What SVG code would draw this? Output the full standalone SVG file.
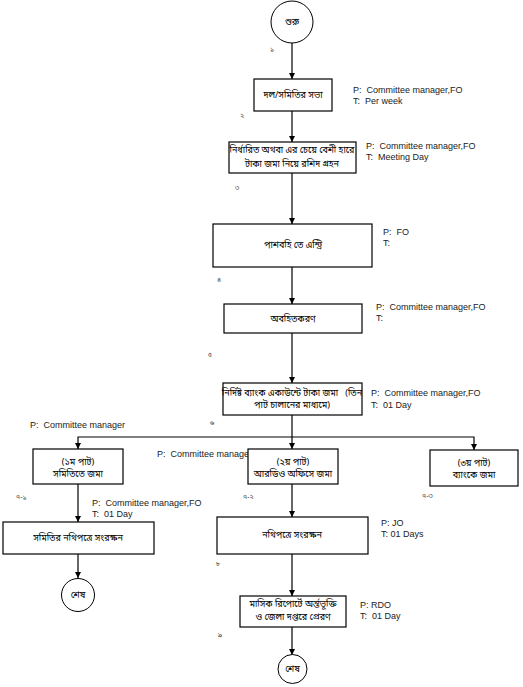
<svg xmlns="http://www.w3.org/2000/svg" width="523" height="687" viewBox="0 0 523 687">
<style>
.box{fill:#fff;stroke:#000;stroke-width:1.2}
.term{fill:#fff;stroke:#000;stroke-width:1}
.bn{font-family:"Noto Sans Bengali","Noto Serif Bengali","Lohit Bengali","FreeSerif","Noto Sans",sans-serif;font-size:9px;fill:#000;text-anchor:middle}
.num{font-family:"Noto Sans Bengali","Noto Serif Bengali","Lohit Bengali","FreeSerif","Noto Sans",sans-serif;font-size:7px;fill:#333}
.en{font-family:"Liberation Sans",Arial,sans-serif;font-size:9px;fill:#222;white-space:pre}
.ln{fill:none;stroke:#000;stroke-width:1.2}
</style>
<defs>
<marker id="ah" viewBox="0 0 10 10" refX="10" refY="5" markerWidth="6" markerHeight="7" markerUnits="userSpaceOnUse" orient="auto">
<path d="M0,0 L10,5 L0,10 z" fill="#000"/>
</marker>
</defs>
<rect width="523" height="687" fill="#fff"/>
<g id="connectors">
<path class="ln" d="M292,43 V79" marker-end="url(#ah)"/>
<path class="ln" d="M292,111 V142" marker-end="url(#ah)"/>
<path class="ln" d="M292,173 V224" marker-end="url(#ah)"/>
<path class="ln" d="M292,267 V304" marker-end="url(#ah)"/>
<path class="ln" d="M292,333 V383" marker-end="url(#ah)"/>
<path class="ln" d="M292,415 V449" marker-end="url(#ah)"/>
<path class="ln" d="M292,437 H78 V449" marker-end="url(#ah)"/>
<path class="ln" d="M292,437 H474 V450" marker-end="url(#ah)"/>
<path class="ln" d="M78,484 V522" marker-end="url(#ah)"/>
<path class="ln" d="M78,554 V578" marker-end="url(#ah)"/>
<path class="ln" d="M292,484 V517" marker-end="url(#ah)"/>
<path class="ln" d="M292,554 V596" marker-end="url(#ah)"/>
<path class="ln" d="M292,627 V655" marker-end="url(#ah)"/>
</g>
<g id="start">
<circle class="term" cx="292" cy="22" r="21"/>
<text class="bn" x="292" y="25" font-size="10">শুরু</text>
<text class="num" x="270" y="51">১</text>
</g>
<g id="n1">
<rect class="box" x="254" y="79" width="78" height="32"/>
<text class="bn" x="293" y="98">দল/সমিতির সভা</text>
<text class="en" x="353" y="93">P:&#160; Committee manager,FO</text>
<text class="en" x="353" y="104">T:&#160; Per week</text>
<text class="num" x="240" y="118">২</text>
</g>
<g id="n2">
<rect class="box" x="229" y="142" width="127" height="31"/>
<text class="bn" x="292" y="153">নির্ধারিত অথবা এর চেয়ে বেশী হারে</text>
<text class="bn" x="292" y="167">টাকা জমা নিয়ে রশিদ গ্রহন</text>
<text class="en" x="366" y="149">P:&#160; Committee manager,FO</text>
<text class="en" x="366" y="160">T:&#160; Meeting Day</text>
<text class="num" x="235" y="190">৩</text>
</g>
<g id="n3">
<rect class="box" x="213" y="224" width="159" height="43"/>
<text class="bn" x="293" y="248">পাশবহি তে এন্ট্রি</text>
<text class="en" x="383" y="235">P:&#160; FO</text>
<text class="en" x="383" y="246">T:</text>
<text class="num" x="217" y="282">৪</text>
</g>
<g id="n4">
<rect class="box" x="224" y="304" width="138" height="29"/>
<text class="bn" x="293" y="322">অবহিতকরণ</text>
<text class="en" x="376" y="310">P:&#160; Committee manager,FO</text>
<text class="en" x="376" y="321">T:</text>
<text class="num" x="208" y="357">৫</text>
</g>
<g id="n5">
<rect class="box" x="223" y="383" width="139" height="32"/>
<text class="bn" x="292" y="396" font-size="8.6">নির্দিষ্ট ব্যাংক একাউন্টে টাকা জমা&#160;&#160; (তিন</text>
<text class="bn" x="292" y="408">পাট চালানের মাধ্যমে)</text>
<text class="en" x="371" y="396">P:&#160; Committee manager,FO</text>
<text class="en" x="371" y="408">T:&#160; 01 Day</text>
<text class="num" x="210" y="425">৬</text>
<text class="en" x="30" y="428">P:&#160; Committee manager</text>
</g>
<g id="n71">
<rect class="box" x="33" y="449" width="90" height="35"/>
<text class="bn" x="78" y="465">(১ম পাট)</text>
<text class="bn" x="78" y="477">সমিতিতে জমা</text>
<text class="num" x="16" y="499">৭-১</text>
<text class="en" x="157" y="457">P:&#160; Committee manager</text>
</g>
<g id="n72">
<rect class="box" x="248" y="449" width="90" height="35"/>
<text class="bn" x="293" y="465">(২য় পাট)</text>
<text class="bn" x="293" y="477">আরডিও অফিসে জমা</text>
<text class="num" x="243" y="499">৭-২</text>
</g>
<g id="n73">
<rect class="box" x="430" y="450" width="88" height="36"/>
<text class="bn" x="474" y="466">(৩য় পাট)</text>
<text class="bn" x="474" y="478">ব্যাংকে জমা</text>
<text class="num" x="422" y="498">৭-৩</text>
</g>
<g id="n81">
<rect class="box" x="3" y="522" width="151" height="32"/>
<text class="bn" x="78" y="541">সমিতির নথিপত্রে সংরক্ষন</text>
<text class="en" x="92" y="506">P:&#160; Committee manager,FO</text>
<text class="en" x="92" y="517">T:&#160; 01 Day</text>
</g>
<g id="end1">
<circle class="term" cx="78" cy="595" r="16.5"/>
<text class="bn" x="78" y="598">শেষ</text>
</g>
<g id="n82">
<rect class="box" x="217" y="517" width="151" height="37"/>
<text class="bn" x="292" y="538">নথিপত্রে সংরক্ষন</text>
<text class="en" x="381" y="526">P: JO</text>
<text class="en" x="381" y="537">T: 01 Days</text>
<text class="num" x="216" y="566">৮</text>
</g>
<g id="n9">
<rect class="box" x="240" y="596" width="106" height="31"/>
<text class="bn" x="293" y="607">মাসিক রিপোর্টে অর্ন্তভূক্তি</text>
<text class="bn" x="293" y="620">ও জেলা দপ্তরে প্রেরণ</text>
<text class="en" x="360" y="608">P: RDO</text>
<text class="en" x="360" y="619">T:&#160; 01 Day</text>
<text class="num" x="218" y="637">৯</text>
</g>
<g id="end2">
<circle class="term" cx="292.5" cy="669" r="14.5"/>
<text class="bn" x="292.5" y="672">শেষ</text>
</g>
</svg>
